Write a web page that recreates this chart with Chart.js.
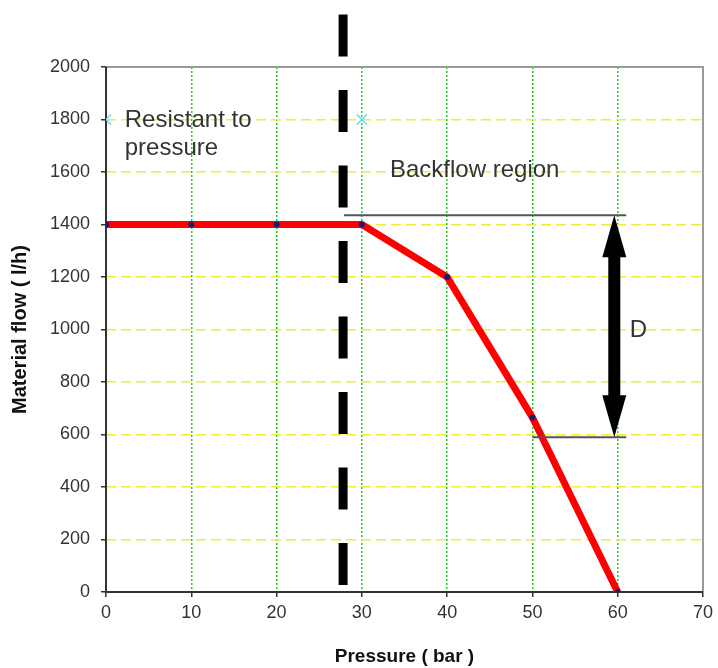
<!DOCTYPE html>
<html>
<head>
<meta charset="utf-8">
<script src="https://cdn.jsdelivr.net/npm/chart.js@4/dist/chart.umd.min.js"></script>
<style>
  html, body { margin: 0; padding: 0; background: #fff; }
  #wrap { width: 718px; height: 668px; }
</style>
</head>
<body>
<div id="wrap"><canvas id="c" width="718" height="668"></canvas></div>
<script>
// ---- data ----
const pressure = [0, 10, 20, 30, 40, 50, 60];
const materialFlow = [1400, 1400, 1400, 1400, 1200, 665, 0];
const markerPressure = [0, 30];
const markerFlow = [1800, 1800];
const xTickValues = [0, 10, 20, 30, 40, 50, 60, 70];
const yTickValues = [0, 200, 400, 600, 800, 1000, 1200, 1400, 1600, 1800, 2000];
const xTitle = 'Pressure ( bar )';
const yTitle = 'Material flow ( l/h)';

// ---- annotations (data units) ----
const dividerPressure = 27.8;
const dividerFlowSpan = [2200, 24];
const refLines = [
  { y: 1435, x0: 27.9, x1: 61.0 },
  { y: 590, x0: 50.0, x1: 61.0 }
];
const arrowSpec = { x: 59.6, yTop: 1435, yBottom: 590 };
const notes = [
  { lines: ['Resistant to', 'pressure'], x: 2.2, y: 1773 },
  { lines: ['Backflow region'], x: 33.3, y: 1582 },
  { lines: ['D'], x: 61.4, y: 972 }
];

const FONT = '"Liberation Sans", Arial, sans-serif';

const annotationPlugin = {
  id: 'annot',
  beforeDatasetsDraw(chart) {
    const { ctx, chartArea: a } = chart;
    ctx.save();
    ctx.setLineDash([]);
    ctx.strokeStyle = '#9a9a9a';
    ctx.lineWidth = 2;
    ctx.beginPath();
    ctx.moveTo(a.left, a.top);
    ctx.lineTo(a.right, a.top);
    ctx.lineTo(a.right, a.bottom);
    ctx.stroke();
    ctx.strokeStyle = '#333';
    ctx.beginPath();
    ctx.moveTo(a.left, a.top);
    ctx.lineTo(a.left, a.bottom);
    ctx.lineTo(a.right, a.bottom);
    ctx.stroke();
    ctx.restore();
  },
  afterDatasetsDraw(chart) {
    const { ctx } = chart;
    const xs = chart.scales.x, ys = chart.scales.y;
    ctx.save();
    ctx.strokeStyle = '#555';
    ctx.lineWidth = 2;
    refLines.forEach(l => {
      const py = ys.getPixelForValue(l.y);
      ctx.beginPath();
      ctx.moveTo(xs.getPixelForValue(l.x0), py);
      ctx.lineTo(xs.getPixelForValue(l.x1), py);
      ctx.stroke();
    });
    const dx = xs.getPixelForValue(dividerPressure);
    ctx.strokeStyle = '#000';
    ctx.lineWidth = 9;
    ctx.lineCap = 'butt';
    ctx.setLineDash([42, 33.5]);
    ctx.beginPath();
    ctx.moveTo(dx, ys.getPixelForValue(dividerFlowSpan[0]));
    ctx.lineTo(dx, ys.getPixelForValue(dividerFlowSpan[1]));
    ctx.stroke();
    ctx.setLineDash([]);
    const ax = xs.getPixelForValue(arrowSpec.x);
    const at = ys.getPixelForValue(arrowSpec.yTop);
    const ab = ys.getPixelForValue(arrowSpec.yBottom);
    const headL = 42, headW = 12, shaftW = 6;
    ctx.fillStyle = '#000';
    ctx.fillRect(ax - shaftW, at + headL - 2, shaftW * 2, ab - at - 2 * headL + 4);
    ctx.beginPath();
    ctx.moveTo(ax, at);
    ctx.lineTo(ax + headW, at + headL);
    ctx.lineTo(ax - headW, at + headL);
    ctx.closePath();
    ctx.fill();
    ctx.beginPath();
    ctx.moveTo(ax, ab);
    ctx.lineTo(ax + headW, ab - headL);
    ctx.lineTo(ax - headW, ab - headL);
    ctx.closePath();
    ctx.fill();
    ctx.fillStyle = '#333';
    ctx.font = '24px ' + FONT;
    ctx.textAlign = 'left';
    ctx.textBaseline = 'alphabetic';
    notes.forEach(n => {
      const px = xs.getPixelForValue(n.x);
      const py = ys.getPixelForValue(n.y);
      n.lines.forEach((t, i) => ctx.fillText(t, px, py + i * 28));
    });
    ctx.restore();
  }
};

new Chart(document.getElementById('c'), {
  type: 'line',
  data: {
    datasets: [
      {
        data: pressure.map((p, i) => ({ x: p, y: materialFlow[i] })),
        borderColor: '#ff0000',
        borderWidth: 7,
        pointRadius: 3,
        pointBackgroundColor: '#1a1a6e',
        pointBorderWidth: 0,
        tension: 0,
        borderJoinStyle: 'round'
      },
      {
        data: markerPressure.map((p, i) => ({ x: p, y: markerFlow[i] })),
        showLine: false,
        pointStyle: 'crossRot',
        pointRadius: 7,
        pointBorderColor: '#66ddf2',
        pointBorderWidth: 1.5
      }
    ]
  },
  plugins: [annotationPlugin],
  options: {
    responsive: false,
    devicePixelRatio: 1,
    animation: false,
    layout: { padding: { top: 67, right: 10, left: 0, bottom: 0 } },
    plugins: { legend: { display: false }, tooltip: { enabled: false } },
    scales: {
      x: {
        type: 'linear',
        min: 0, max: 70,
        afterFit: s => { s.height = 76; },
        afterBuildTicks: s => { s.ticks = xTickValues.map(v => ({ value: v })); },
        ticks: { color: '#333', font: { family: FONT, size: 18 }, padding: 5, maxRotation: 0,
                 callback: v => String(v) },
        grid: {
          color: c => (c.tick && (c.tick.value === 0 || c.tick.value === 70)) ? 'rgba(0,0,0,0)' : '#22cc22',
          lineWidth: 1.5,
          tickColor: '#333',
          tickLength: 5,
          tickBorderDash: []
        },
        border: { display: false, dash: [2, 2] },
        title: { display: true, text: xTitle, color: '#111', font: { family: FONT, size: 19, weight: 'bold' }, padding: { top: 0, bottom: 0 } }
      },
      y: {
        min: 0, max: 2000,
        afterFit: s => { s.width = 106; },
        afterBuildTicks: s => { s.ticks = yTickValues.map(v => ({ value: v })); },
        ticks: { color: '#333', font: { family: FONT, size: 18 }, padding: 11,
                 callback: v => String(v) },
        grid: {
          color: c => (c.tick && (c.tick.value === 0 || c.tick.value === 2000)) ? 'rgba(0,0,0,0)' : '#eeee33',
          lineWidth: 1.5,
          tickColor: '#333',
          tickLength: 5,
          tickBorderDash: []
        },
        border: { display: false, dash: [10, 5] },
        title: { display: true, text: yTitle, color: '#111', font: { family: FONT, size: 20, weight: 'bold' }, padding: { top: 8, bottom: 0 } }
      }
    }
  }
});
</script>
</body>
</html>
